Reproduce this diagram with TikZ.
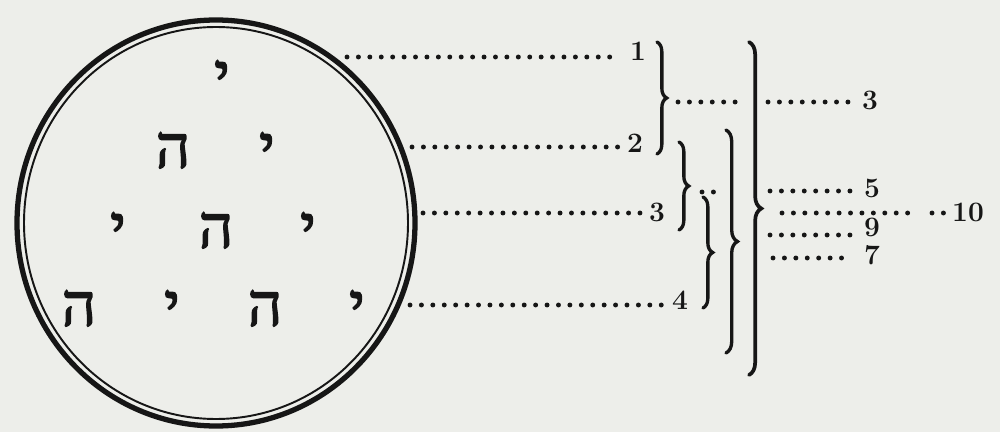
\documentclass[tikz,border=0pt]{standalone}
\usepackage{fontspec}
\usepackage{tikz}
\usetikzlibrary{decorations.pathreplacing,decorations.markings}
\newfontfamily\hebfont[Script=Hebrew,FakeBold=2.4]{Liberation Serif}
\definecolor{paper}{RGB}{237,238,234}
\definecolor{ink}{RGB}{22,22,22}

\begin{document}
\begin{tikzpicture}[x=0.02cm,y=-0.02cm,
	heb/.style={anchor=north,text=ink,inner sep=0pt,font=\hebfont\fontsize{34}{34}\selectfont},
	num/.style={text=ink,inner xsep=4pt,inner ysep=0.5pt,font=\bfseries\fontsize{16}{16}\selectfont},
	dots/.style={postaction=decorate,decoration={markings,
		mark=between positions 0 and 1 step 6.5pt with {\fill[ink] (0,0) circle[radius=1.4pt];}}},
	brc/.style={draw=ink,line width=1.9pt,line cap=round,decorate,decoration={brace,amplitude=#1}},
	brc/.default=5.5pt]

	\fill[paper] (0,0) rectangle (1000,432);
	\useasboundingbox (0,0) rectangle (1000,432);

	% double ring
	\draw[ink,line width=3pt] (216,223) ellipse[x radius=199,y radius=203];
	\draw[ink,line width=1.1pt] (216,223) ellipse[x radius=192,y radius=196];

	% letters, row by row
	\node[heb] (a)  at (222,60)  {י};
	\node[heb] (b1) at (173,132) {ה};
	\node[heb] (b2) at (267,132) {י};
	\node[heb] (c1) at (118,212) {י};
	\node[heb] (c2) at (216,212) {ה};
	\node[heb] (c3) at (308,212) {י};
	\node[heb] (d1) at (79,290)  {ה};
	\node[heb] (d2) at (172,290) {י};
	\node[heb] (d3) at (265,290) {ה};
	\node[heb] (d4) at (357,290) {י};

	% numbers
	\node[num] (l1)  at (638,51)  {1};
	\node[num] (l2)  at (635,143) {2};
	\node[num] (l3)  at (657,212) {3};
	\node[num] (l4)  at (680,300) {4};
	\node[num] (r3)  at (870,100) {3};
	\node[num] (r5)  at (872,188) {5};
	\node[num] (r10) at (968,212) {10};
	\node[num] (r9)  at (872,227) {9};
	\node[num] (r7)  at (872,255) {7};

	% ends of the leaders
	\coordinate (s1) at (347,57);
	\coordinate (e1) at (612,57);
	\coordinate (s2) at (412,147);
	\coordinate (s3) at (423,213);
	\coordinate (s4) at (410,305);
	\coordinate (tA) at (678,102);
	\coordinate (gA) at (738,102);
	\coordinate (gB) at (768,102);
	\coordinate (tB) at (702,192);
	\coordinate (gC) at (716,192);
	\coordinate (s5) at (770,191);
	\coordinate (tE) at (782,213);
	\coordinate (gD) at (912,213);
	\coordinate (gE) at (932,213);
	\coordinate (s9) at (770,235);
	\coordinate (s7) at (773,258);
	\coordinate (e7) at (845,258);

	% brace ends
	\coordinate (bA1) at (657,42);
	\coordinate (bA2) at (657,154);
	\coordinate (bB1) at (679,142);
	\coordinate (bB2) at (679,230);
	\coordinate (bC1) at (703,197);
	\coordinate (bC2) at (703,308);
	\coordinate (bD1) at (726,130);
	\coordinate (bD2) at (726,353);
	\coordinate (bE1) at (749,42);
	\coordinate (bE2) at (749,375);

	\path[dots] (s1) -- (e1);
	\path[dots] (s2) -- (s2 -| l2.west);
	\path[dots] (s3) -- (s3 -| l3.west);
	\path[dots] (s4) -- (s4 -| l4.west);
	\path[dots] (tA) -- (gA);
	\path[dots] (gB) -- (gB -| r3.west);
	\path[dots] (tB) -- (gC);
	\path[dots] (s5) -- (s5 -| r5.west);
	\path[dots] (tE) -- (gD);
	\path[dots] (gE) -- (gE -| r10.west);
	\path[dots] (s9) -- (s9 -| r9.west);
	\path[dots] (s7) -- (e7);

	\draw[brc] (bA1) -- (bA2);
	\draw[brc] (bB1) -- (bB2);
	\draw[brc] (bC1) -- (bC2);
	\draw[brc=6.5pt] (bD1) -- (bD2);
	\draw[brc=7pt,line width=2.1pt] (bE1) -- (bE2);

\end{tikzpicture}
\end{document}
